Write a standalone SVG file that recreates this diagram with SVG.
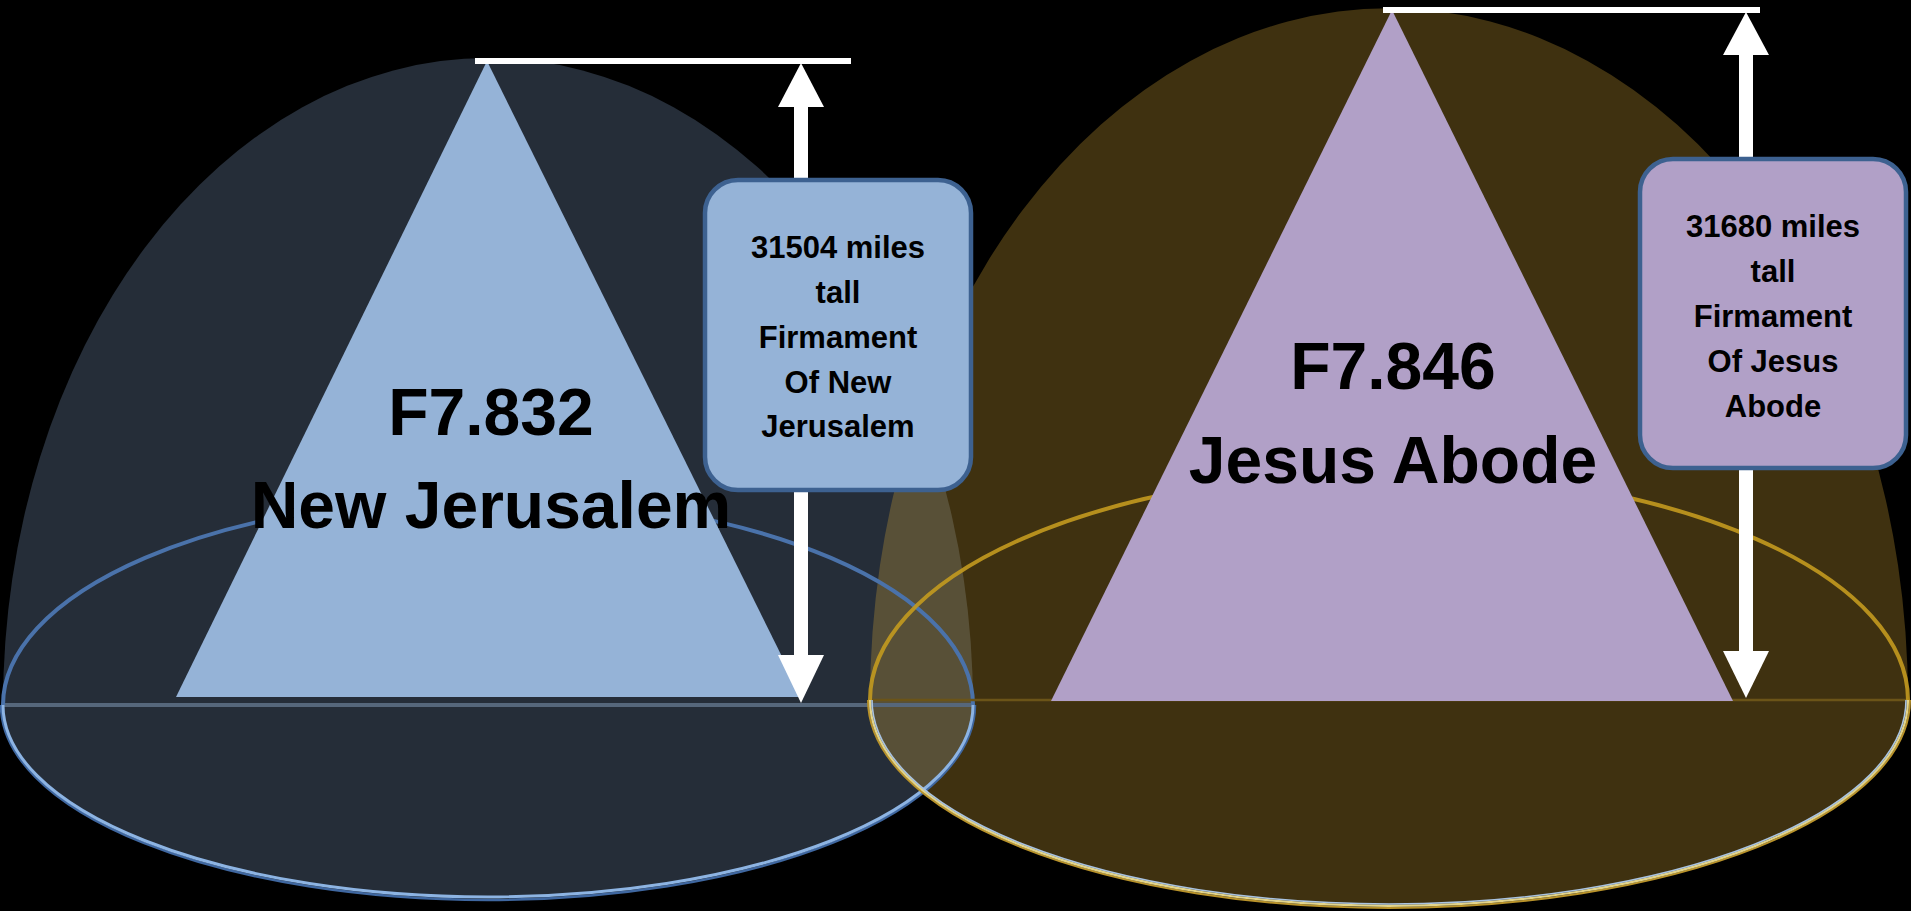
<svg xmlns="http://www.w3.org/2000/svg" width="1911" height="911" viewBox="0 0 1911 911">
  <defs>
    <style>
      .big { font-family: "Liberation Sans", Arial, sans-serif; font-size: 66px; font-weight: bold; fill: #000; text-anchor: middle; }
      .lbl { font-family: "Liberation Sans", Arial, sans-serif; font-size: 31px; font-weight: bold; fill: #000; text-anchor: middle; }
      .box { stroke: #3d6190; stroke-width: 4.5; }
      .arrow { fill: #ffffff; }
    </style>
  </defs>
  <rect x="0" y="0" width="1911" height="911" fill="#000000"/>

  <!-- Domes -->
  <g id="dome-new-jerusalem">
    <path d="M 3,705 A 485,647 0 0 1 973,705 A 485,193 0 0 1 3,705 Z" fill="#252d38"/>
  </g>
  <g id="dome-jesus-abode">
    <path d="M 870,700 A 519,692 0 0 1 1908,700 A 519,206 0 0 1 870,700 Z" fill="#cfa335" fill-opacity="0.3"/>
  </g>

  <!-- Base ellipses and equator lines -->
  <g id="base-new-jerusalem">
    <line x1="3" y1="705" x2="973" y2="705" stroke="#56677b" stroke-width="4"/>
    <path d="M 3,705 A 485,208 0 0 1 973,705" fill="none" stroke="#4a72aa" stroke-width="4"/>
    <path d="M 1,705 A 487,195 0 0 0 975,705" fill="none" stroke="#3f67a0" stroke-width="2.5"/>
    <path d="M 3,705 A 485,192 0 0 0 973,705" fill="none" stroke="#8db4e3" stroke-width="3"/>
  </g>
  <g id="base-jesus-abode">
    <line x1="872" y1="700" x2="1908" y2="700" stroke="#6b5418" stroke-width="2.5"/>
    <path d="M 870,700 A 519,228 0 0 1 1908,700" fill="none" stroke="#c39a1f" stroke-width="4" stroke-opacity="0.9"/>
    <path d="M 868,700 A 521,208 0 0 0 1910,700" fill="none" stroke="#b8922a" stroke-width="2"/>
    <path d="M 870,700 A 519,206 0 0 0 1908,700" fill="none" stroke="#e3d48a" stroke-width="2.2"/>
    <path d="M 872,700 A 517,204 0 0 0 1906,700" fill="none" stroke="#a9c3e0" stroke-width="1.6"/>
  </g>

  <!-- Triangles with titles -->
  <g id="node-new-jerusalem">
    <polygon points="487,61 802,697 176,697" fill="#95b3d7"/>
    <text class="big" x="491" y="435">F7.832</text>
    <text class="big" x="491" y="528">New Jerusalem</text>
  </g>
  <g id="node-jesus-abode">
    <polygon points="1392,10 1733,701 1051,701" fill="#b1a0c7"/>
    <text class="big" x="1393" y="389">F7.846</text>
    <text class="big" x="1393" y="483">Jesus Abode</text>
  </g>

  <!-- Connectors: height markers -->
  <g id="connectors">
    <rect class="arrow" x="475" y="58" width="376" height="6"/>
    <rect class="arrow" x="794" y="105" width="14" height="552"/>
    <polygon class="arrow" points="801,63 824,107 778,107"/>
    <polygon class="arrow" points="778,655 824,655 801,703"/>

    <rect class="arrow" x="1383" y="7" width="377" height="6"/>
    <rect class="arrow" x="1739" y="53" width="14" height="600"/>
    <polygon class="arrow" points="1746,12 1769,55 1723,55"/>
    <polygon class="arrow" points="1723,651 1769,651 1746,698"/>
  </g>

  <!-- Label boxes -->
  <g id="label-new-jerusalem">
    <rect class="box" x="705" y="180" width="266" height="310" rx="33" fill="#95b3d7"/>
    <text class="lbl" x="838" y="258">31504 miles</text>
    <text class="lbl" x="838" y="303">tall</text>
    <text class="lbl" x="838" y="348">Firmament</text>
    <text class="lbl" x="838" y="393">Of New</text>
    <text class="lbl" x="838" y="437">Jerusalem</text>
  </g>
  <g id="label-jesus-abode">
    <rect class="box" x="1640" y="159" width="266" height="309" rx="33" fill="#b1a0c7"/>
    <text class="lbl" x="1773" y="237">31680 miles</text>
    <text class="lbl" x="1773" y="282">tall</text>
    <text class="lbl" x="1773" y="327">Firmament</text>
    <text class="lbl" x="1773" y="372">Of Jesus</text>
    <text class="lbl" x="1773" y="417">Abode</text>
  </g>
</svg>
